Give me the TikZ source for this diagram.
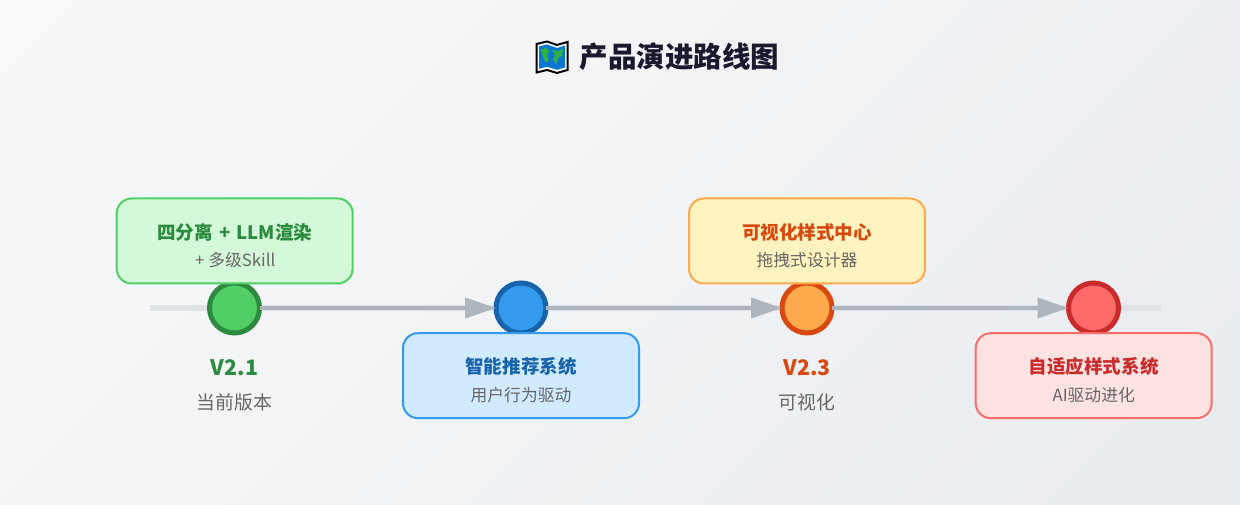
\documentclass[tikz,border=0pt]{standalone}
\usepackage{fontspec}
\setmainfont{Noto Sans CJK SC}
\usetikzlibrary{arrows.meta}
\definecolor{bgA}{HTML}{F8F9FA}
\definecolor{bgB}{HTML}{E9ECEF}
\definecolor{baseC}{HTML}{DEE2E6}
\definecolor{arrowC}{HTML}{ADB5BD}
\definecolor{titleC}{HTML}{1A1A2E}
\definecolor{subC}{HTML}{666666}
\definecolor{gF}{HTML}{51CF66}\definecolor{gS}{HTML}{2B8A3E}\definecolor{gB}{HTML}{D3F9D8}
\definecolor{bF}{HTML}{339AF0}\definecolor{bS}{HTML}{1864AB}\definecolor{bB}{HTML}{D0EBFF}
\definecolor{oF}{HTML}{FFA94D}\definecolor{oS}{HTML}{D9480F}\definecolor{oB}{HTML}{FFF3BF}
\definecolor{rF}{HTML}{FF6B6B}\definecolor{rS}{HTML}{C92A2A}\definecolor{rB}{HTML}{FFE3E3}
\definecolor{mapB}{HTML}{0A78D0}\definecolor{mapG}{HTML}{2FB344}
\tikzset{
  stage/.style n args={2}{circle,draw=#2,fill=#1,line width=3.75pt,minimum size=37.5pt,inner sep=0pt,outer sep=0pt},
  card/.style n args={2}{draw=#1,fill=#2,line width=1.5pt,rounded corners=11.25pt,minimum width=177pt,minimum height=63.75pt,inner sep=0pt,outer sep=0pt},
  flow/.style={draw=arrowC,line width=3pt,-{Triangle[length=23.25pt,width=15pt,fill=arrowC]}},
  cardtitle/.style={font=\fontsize{13.9pt}{16pt}\bfseries,text=#1,inner sep=0pt},
  cardsub/.style={font=\fontsize{12.6pt}{15pt}\selectfont,text=subC,inner sep=0pt},
  vername/.style={font=\fontsize{16pt}{19pt}\bfseries,text=#1,inner sep=0pt},
  verdesc/.style={font=\fontsize{14.1pt}{17pt}\selectfont,text=subC,inner sep=0pt},
}
\begin{document}
\begin{tikzpicture}[x=0.75pt,y=-0.75pt]
\useasboundingbox (0,0) rectangle (1240,505);
\begin{scope}
\clip (0,0) rectangle (1240,505);
\foreach \i in {0,...,44}{
  \pgfmathsetmacro{\tp}{\i/44*100}
  \pgfmathsetmacro{\ax}{\i/45*1745}
  \fill[bgB!\tp!bgA] (\ax,0) -- (3000,0) -- (3000,505) -- (\ax-505,505) -- cycle;
}
\end{scope}
% map icon
\path[draw=black,line width=1.5pt,line join=miter,fill=white] (536.5,44) -- (547,41.5) -- (557,45) -- (567.5,42) -- (567.5,70) -- (557,73) -- (547,70) -- (536.5,72.5) -- cycle;
\fill[mapB] (539,46.5) -- (547,44.5) -- (557,48) -- (565,45.5) -- (565,67.5) -- (557,69.8) -- (547,66.8) -- (539,68.7) -- cycle;
\fill[mapG] (541,50) -- (546,47.5) -- (549,51) -- (547,56) -- (549,60) -- (546,63) -- (543,57) -- cycle;
\fill[mapG] (552,50) -- (558,51) -- (563,49) -- (562,56) -- (558,58) -- (556,64) -- (553,60) -- (555,55) -- cycle;
\node[font=\fontsize{21.4pt}{25pt}\bfseries,text=titleC,inner sep=0pt] (title) at (679.5,57) {产品演进路线图};
\coordinate (lineL) at (150,308);
\coordinate (lineR) at (1161,308);
\draw[baseC,line width=4.5pt] (lineL) -- (lineR);
\node[stage={gF}{gS}] (s1) at (234.5,308) {};
\node[stage={bF}{bS}] (s2) at (521,308) {};
\node[stage={oF}{oS}] (s3) at (807,308) {};
\node[stage={rF}{rS}] (s4) at (1093.5,308) {};
\draw[flow] (s1) -- (s2);
\draw[flow] (s2) -- (s3);
\draw[flow] (s3) -- (s4);
\node[card={gF}{gB}] (c1) at (234.7,241) {};
\node[card={bF}{bB}] (c2) at (521,375.7) {};
\node[card={oF}{oB}] (c3) at (807,241) {};
\node[card={rF}{rB}] (c4) at (1093.7,375.7) {};
\node[cardtitle=gS] (t1) at (234.7,232) {四分离\hspace{0.34em}+\hspace{0.34em}LLM渲染};
\node[cardsub] (d1) at (235.3,260) {+ 多级Skill};
\node[cardtitle=bS] (t2) at (521,366) {智能推荐系统};
\node[cardsub] (d2) at (521,395) {用户行为驱动};
\node[cardtitle=oS] (t3) at (807,232) {可视化样式中心};
\node[cardsub] (d3) at (807,260) {拖拽式设计器};
\node[cardtitle=rS] (t4) at (1093.7,366) {自适应样式系统};
\node[cardsub] (d4) at (1093.7,395) {AI驱动进化};
\node[vername=gS] (v1) at (234.5,368) {V2.1};
\node[verdesc] (e1) at (234.5,402) {当前版本};
\node[vername=oS] (v3) at (807,368) {V2.3};
\node[verdesc] (e3) at (807,402) {可视化};
\end{tikzpicture}
\end{document}
